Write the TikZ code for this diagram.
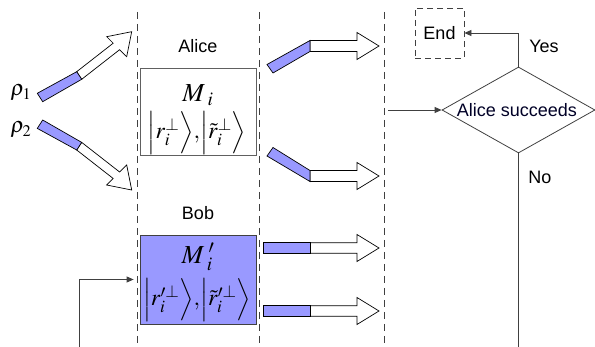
\documentclass[tikz,border=0pt]{standalone}
\usepackage{amsmath}
\usepackage{mathptmx}
\usepackage[no-math]{fontspec}
\setmainfont{Liberation Sans}
\usetikzlibrary{arrows.meta,shapes.geometric}
\definecolor{qblue}{HTML}{9999FF}
\definecolor{dgray}{HTML}{404040}
\definecolor{mgray}{HTML}{606060}
\tikzset{
  blueseg/.style={fill=qblue,draw=black,line width=0.7pt,line join=miter},
  whitearrow/.style={fill=white,draw=black,line width=0.7pt,line join=miter},
  dline/.style={draw=dgray,line width=0.8pt,dash pattern=on 7pt off 5pt},
  conn/.style={draw=dgray,line width=0.8pt,-{Triangle[length=7pt,width=6pt]}},
  plainline/.style={draw=dgray,line width=0.8pt},
  lbl/.style={font=\fontsize{18}{21}\selectfont,inner sep=0pt},
  mth/.style={font=\fontsize{26}{23}\selectfont,inner sep=0pt},
  ket/.style={font=\fontsize{23.5}{23}\selectfont,inner sep=0pt},
  rholbl/.style={font=\fontsize{22}{24}\selectfont,inner sep=0pt},
}
\begin{document}
\begin{tikzpicture}[x=1pt,y=-1pt]
\useasboundingbox (0,0) rectangle (595,347);

% dashed separators
\draw[dline] (137,12) -- (137,347);
\draw[dline] (259,12) -- (259,347);
\draw[dline] (384,12) -- (384,347);

% left labels
\node[rholbl] (rho1) at (21,93) {$\rho_1$};
\node[rholbl] (rho2) at (21,130) {$\rho_2$};

% left arrow 1
\draw[whitearrow] (76.7,71.7) -- (113.2,43.2) -- (106.7,36.7) -- (131.7,31.7) -- (126.7,56.7) -- (119.6,49.7) -- (81.7,79.3) -- cycle;
\draw[blueseg] (37.3,93.3) -- (76.7,71.7) -- (81.7,79.3) -- (42.7,101.7) -- cycle;
% left arrow 2
\draw[whitearrow] (76.7,150) -- (113.2,178.5) -- (106.7,185) -- (131.7,190) -- (126.7,165) -- (119.6,172) -- (81.7,142.4) -- cycle;
\draw[blueseg] (37.3,128.4) -- (76.7,150) -- (81.7,142.4) -- (42.7,120) -- cycle;

% Alice
\node[lbl] (alice) at (198,46) {Alice};
\node[draw=mgray,line width=0.8pt,minimum width=116pt,minimum height=87pt,inner sep=0pt] (alicebox) at (198,111.5) {};
\node[mth] (aliceM) at (198,95) {$M_{\;i}$};
\node[ket] (aliceK) at (197,133) {$\Big|r_i^{\perp}\Big\rangle{,}\Big|\tilde{r}_i^{\perp}\Big\rangle$};

% Bob
\node[lbl] (bob) at (198,213) {Bob};
\node[draw=dgray,fill=qblue,line width=0.8pt,minimum width=116pt,minimum height=89pt,inner sep=0pt] (bobbox) at (198,279.5) {};
\node[mth] (bobM) at (198,257) {$M_{\;i}^{\;\prime}$};
\node[ket] (bobK) at (197,300) {$\Big|r_i^{\prime\perp}\Big\rangle{,}\Big|\tilde{r}_i^{\prime\perp}\Big\rangle$};

\coordinate (bobin) at (79,347);
\draw[conn] (bobin) |- ([xshift=-6pt]bobbox.west);

% right arrows
\draw[whitearrow] (310,40.5) -- (357,40.5) -- (357,32.5) -- (379,46) -- (357,59.5) -- (357,51.5) -- (310,51.5) -- cycle;
\draw[blueseg] (310,40.5) -- (310,51.5) -- (273,73) -- (267,64.5) -- cycle;

\draw[whitearrow] (310,170.5) -- (357,170.5) -- (357,162.5) -- (379,176) -- (357,189.5) -- (357,181.5) -- (310,181.5) -- cycle;
\draw[blueseg] (310,170.5) -- (273,147.5) -- (267,156) -- (310,181.5) -- cycle;

\draw[whitearrow] (310,242.75) -- (357,242.75) -- (357,234.5) -- (379,248) -- (357,261.5) -- (357,253.25) -- (310,253.25) -- cycle;
\draw[blueseg] (263,242.75) rectangle (310,253.25);

\draw[whitearrow] (310,305.75) -- (357,305.75) -- (357,297.5) -- (379,311) -- (357,324.5) -- (357,316.25) -- (310,316.25) -- cycle;
\draw[blueseg] (263,305.75) rectangle (310,316.25);

% flow part
\node[draw=dgray,line width=0.8pt,dash pattern=on 6pt off 4pt,minimum width=49pt,minimum height=50pt,inner sep=0pt] (endbox) at (439.5,33) {};
\node[lbl] (endtxt) at (439.5,33) {End};

\node[diamond,draw=dgray,line width=0.8pt,minimum width=153pt,minimum height=86pt,aspect=1.78,inner sep=0pt] (dia) at (518.5,110) {};
\node[lbl,text=black!85!blue] (diatxt) at (517,110) {Alice succeeds};

\coordinate (din) at (388,110);
\draw[conn] (din) -- (dia.west);
\draw[conn] (dia.north) |- (endbox.east);
\coordinate (bot) at (518.5,347);
\draw[plainline] (dia.south) -- (bot);

\node[lbl] (yes) at (544,46) {Yes};
\node[lbl] (no) at (540,177) {No};
\end{tikzpicture}
\end{document}
